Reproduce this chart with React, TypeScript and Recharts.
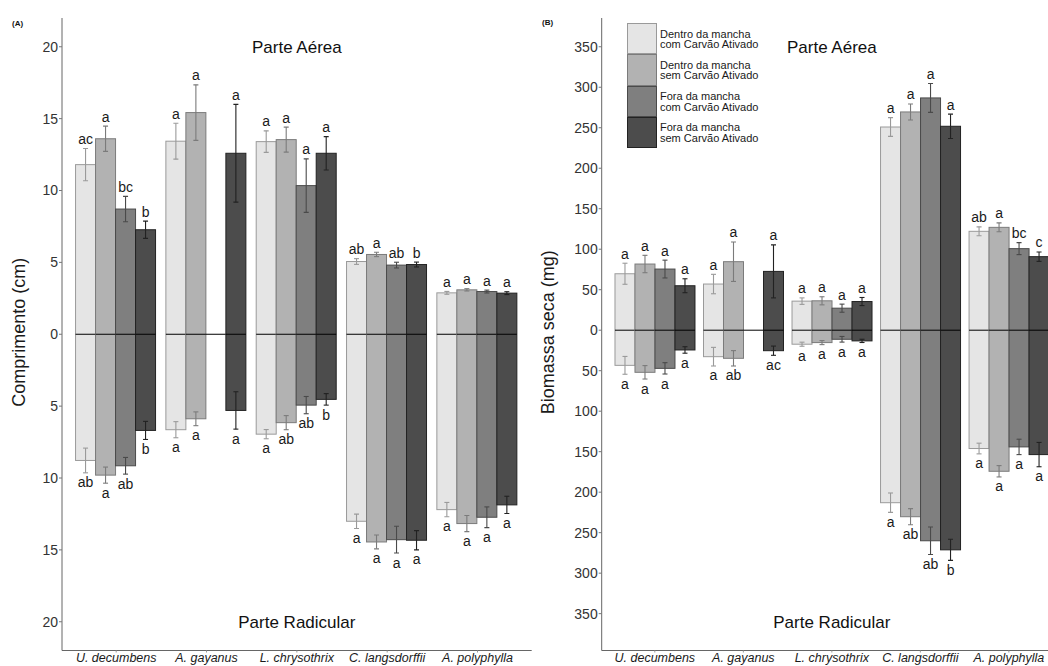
import React from 'react';
import { BarChart, Bar, XAxis, YAxis, ReferenceLine, Legend } from 'recharts';

const FONT = '"Liberation Sans", Arial, Helvetica, sans-serif';

const species = ['U. decumbens', 'A. gayanus', 'L. chrysothrix', 'C. langsdorffii', 'A. polyphylla'];
const groupNames = [
  ['Dentro da mancha', 'com Carvão Ativado'],
  ['Dentro da mancha', 'sem Carvão Ativado'],
  ['Fora da mancha', 'com Carvão Ativado'],
  ['Fora da mancha', 'sem Carvão Ativado'],
];
const groupFills = ['#e5e5e5', '#b2b2b2', '#7f7f7f', '#4c4c4c'];
const groupStrokes = ['#9a9a9a', '#7b7b7b', '#4a4a4a', '#222222'];

// ---------- Panel A: Comprimento (cm) ----------
const compAerea = [
  [11.8, 13.43, 13.4, 5.06, 2.88],
  [13.6, 15.42, 13.54, 5.55, 3.09],
  [8.71, null, 10.34, 4.81, 2.97],
  [7.27, 12.59, 12.59, 4.85, 2.86],
];
const compAereaErr = [
  [1.12, 1.25, 0.75, 0.2, 0.1],
  [0.88, 1.93, 0.87, 0.15, 0.08],
  [0.88, null, 1.86, 0.2, 0.1],
  [0.6, 3.4, 1.16, 0.17, 0.1],
];
const compAereaLetras = [
  ['ac', 'a', 'a', 'ab', 'a'],
  ['a', 'a', 'a', 'a', 'a'],
  ['bc', '', 'a', 'ab', 'a'],
  ['b', 'a', 'a', 'b', 'a'],
];
const compRaiz = [
  [8.78, 6.64, 6.95, 13.01, 12.2],
  [9.8, 5.88, 6.15, 14.45, 13.17],
  [9.15, null, 4.93, 14.29, 12.73],
  [6.69, 5.3, 4.53, 14.33, 11.87],
];
const compRaizErr = [
  [0.86, 0.56, 0.32, 0.5, 0.5],
  [0.56, 0.48, 0.49, 0.48, 0.56],
  [0.58, null, 0.6, 0.93, 0.72],
  [0.63, 1.3, 0.4, 0.67, 0.6],
];
const compRaizLetras = [
  ['ab', 'a', 'a', 'a', 'a'],
  ['a', 'a', 'ab', 'a', 'a'],
  ['ab', '', 'ab', 'a', 'a'],
  ['b', 'a', 'b', 'a', 'a'],
];
const compTicks = [-20, -15, -10, -5, 0, 5, 10, 15, 20];

// ---------- Panel B: Biomassa seca (mg) ----------
const biomAerea = [
  [69.7, 57, 35.9, 250.9, 122.1],
  [81.7, 84.6, 36.3, 269.5, 127],
  [75.5, null, 27.2, 286.8, 100.7],
  [54.9, 72.6, 35.4, 251.8, 90.8],
];
const biomAereaErr = [
  [13, 12, 4, 11.6, 5.5],
  [10.7, 24.4, 5, 9.9, 5.5],
  [11, null, 5, 17.8, 7.4],
  [8.6, 32.7, 5, 15, 5.8],
];
const biomAereaLetras = [
  ['a', 'a', 'a', 'a', 'ab'],
  ['a', 'a', 'a', 'a', 'a'],
  ['a', '', 'a', 'a', 'bc'],
  ['a', 'a', 'a', 'a', 'c'],
];
const biomRaiz = [
  [43.4, 32.7, 17.3, 213, 146.1],
  [52, 34.7, 15.3, 230.3, 174.2],
  [47.1, null, 11.2, 260, 144.1],
  [24.4, 25.3, 13.2, 271.2, 153.6],
];
const biomRaizErr = [
  [11, 11.5, 2.5, 12, 6.6],
  [8.3, 9.5, 2.5, 10, 7],
  [7, null, 3.5, 17, 9.5],
  [4, 5.7, 2, 13, 15],
];
const biomRaizLetras = [
  ['a', 'a', 'a', 'a', 'a'],
  ['a', 'ab', 'a', 'ab', 'a'],
  ['a', '', 'a', 'ab', 'a'],
  ['a', 'ac', 'a', 'b', 'a'],
];
const biomTicks = [-350, -300, -250, -200, -150, -100, -50, 0, 50, 100, 150, 200, 250, 300, 350];

type Num = number | null;

function buildRows(aer: Num[][], aerErr: Num[][], aerLet: string[][], rai: Num[][], raiErr: Num[][], raiLet: string[][]) {
  return species.map((sp, i) => {
    const row: any = { species: sp };
    for (let g = 0; g < 4; g++) {
      const a = aer[g][i];
      const r = rai[g][i];
      const has = a != null && r != null;
      row['v' + g] = has ? [-(r as number), a as number] : [0, 0];
      row['info' + g] = {
        has,
        a: a ?? 0,
        r: r ?? 0,
        ea: aerErr[g][i] ?? 0,
        er: raiErr[g][i] ?? 0,
        la: aerLet[g][i],
        lr: raiLet[g][i],
      };
    }
    return row;
  });
}

const rowsA = buildRows(compAerea, compAereaErr, compAereaLetras, compRaiz, compRaizErr, compRaizLetras);
const rowsB = buildRows(biomAerea, biomAereaErr, biomAereaLetras, biomRaiz, biomRaizErr, biomRaizLetras);

const makeShape = (g: number) => (props: any) => {
  const { x, y, width, height, payload } = props;
  const info = payload['info' + g];
  const fill = groupFills[g];
  const stroke = groupStrokes[g];
  if (!info || !info.has) {
    return (
      <g>
        <line x1={x} x2={x + width} y1={y} y2={y} stroke="#000" strokeWidth={1} />
      </g>
    );
  }
  const total = info.a + info.r;
  const px = height / total;
  const zeroY = y + info.a * px;
  const cx = x + width / 2;
  const cap = 2.5;
  const aTop = zeroY - (info.a + info.ea) * px;
  const aBot = zeroY - (info.a - info.ea) * px;
  const rTop = zeroY + (info.r - info.er) * px;
  const rBot = zeroY + (info.r + info.er) * px;
  const errColor = groupStrokes[g];
  return (
    <g>
      <rect x={x} y={y} width={width} height={height} fill={fill} stroke={stroke} strokeWidth={1} />
      <line x1={x} x2={x + width} y1={zeroY} y2={zeroY} stroke="#000" strokeWidth={1} />
      <g stroke={errColor} strokeWidth={1.1}>
        <line x1={cx} x2={cx} y1={aTop} y2={aBot} />
        <line x1={cx - cap} x2={cx + cap} y1={aTop} y2={aTop} />
        <line x1={cx - cap} x2={cx + cap} y1={aBot} y2={aBot} />
        <line x1={cx} x2={cx} y1={rTop} y2={rBot} />
        <line x1={cx - cap} x2={cx + cap} y1={rTop} y2={rTop} />
        <line x1={cx - cap} x2={cx + cap} y1={rBot} y2={rBot} />
      </g>
      <text x={cx} y={aTop - 4.5} textAnchor="middle" fontSize={14} fontFamily={FONT} fill="#1a1a1a">
        {info.la}
      </text>
      <text x={cx} y={rBot + 14.5} textAnchor="middle" fontSize={14} fontFamily={FONT} fill="#1a1a1a">
        {info.lr}
      </text>
    </g>
  );
};

const shapes = [0, 1, 2, 3].map((g) => makeShape(g));

const LegendBox = () => (
  <div style={{ fontFamily: FONT, fontSize: 11, color: '#1a1a1a' }}>
    {groupNames.map((n, g) => (
      <div key={g} style={{ display: 'flex', alignItems: 'center', height: 31.25 }}>
        <div
          style={{
            width: 30,
            height: 31.25,
            boxSizing: 'border-box',
            background: groupFills[g],
            border: `1px solid ${groupStrokes[g]}`,
          }}
        />
        <div style={{ marginLeft: 3, lineHeight: '10.5px', paddingTop: 1, whiteSpace: 'nowrap' }}>
          {n[0]}
          <br />
          {n[1]}
        </div>
      </div>
    ))}
  </div>
);

type PanelProps = {
  rows: any[];
  domain: [number, number];
  ticks: number[];
  yLabel: string;
  yLabelX: number;
  width: number;
  marginRight: number;
  yAxisWidth: number;
  topText: number;
  bottomText: number;
  legend?: boolean;
};

function Panel({ rows, domain, ticks, yLabel, yLabelX, width, marginRight, yAxisWidth, topText, bottomText, legend }: PanelProps) {
  const plotW = width - marginRight - 2 - yAxisWidth;
  const pad = (plotW / 5.2) * 0.1;
  return (
    <BarChart
      width={width}
      height={666}
      data={rows}
      margin={{ top: 18, right: marginRight, bottom: 0, left: 2 }}
      barCategoryGap="5%"
      barGap={0}
    >
      <XAxis
        dataKey="species"
        interval={0}
        height={15.5}
        padding={{ left: pad, right: pad }}
        tickSize={2}
        tickMargin={1}
        axisLine={{ stroke: '#666', strokeWidth: 1 }}
        tickLine={{ stroke: '#999' }}
        tick={{ fontSize: 12.5, fontStyle: 'italic', fill: '#1a1a1a', fontFamily: FONT }}
      />
      <YAxis
        type="number"
        domain={domain}
        allowDataOverflow
        ticks={ticks}
        interval={0}
        width={yAxisWidth}
        tickSize={3}
        tickMargin={1}
        tickFormatter={(v: number) => String(Math.abs(v))}
        axisLine={{ stroke: '#666', strokeWidth: 1 }}
        tickLine={{ stroke: '#777' }}
        tick={{ fontSize: 14, fill: '#333', fontFamily: FONT }}
        label={{
          content: (p: any) => {
            const vb = p.viewBox || { x: 0, y: 0, width: 0, height: 0 };
            const cx = vb.x + yLabelX;
            const cy = vb.y + vb.height / 2 - 2;
            return (
              <text
                transform={`translate(${cx},${cy}) rotate(-90)`}
                textAnchor="middle"
                dominantBaseline="central"
                fontSize={18}
                fontFamily={FONT}
                fill="#1a1a1a"
              >
                {yLabel}
              </text>
            );
          },
        }}
      />
      {[0, 1, 2, 3].map((g) => (
        <Bar
          key={g}
          dataKey={'v' + g}
          name={groupNames[g].join(' ')}
          fill={groupFills[g]}
          stroke={groupStrokes[g]}
          shape={shapes[g]}
          isAnimationActive={false}
        />
      ))}
      <ReferenceLine
        y={topText}
        stroke="none"
        strokeOpacity={0}
        label={{ value: 'Parte Aérea', position: 'center', fontSize: 17, fill: '#111', fontFamily: FONT }}
      />
      <ReferenceLine
        y={bottomText}
        stroke="none"
        strokeOpacity={0}
        label={{ value: 'Parte Radicular', position: 'center', fontSize: 17, fill: '#111', fontFamily: FONT }}
      />
      {legend && (
        <Legend
          layout="vertical"
          align="center"
          verticalAlign="middle"
          wrapperStyle={{ left: 107, top: 23, width: 'auto', height: 'auto' }}
          content={() => <LegendBox />}
        />
      )}
    </BarChart>
  );
}

export default function App() {
  return (
    <div
      style={{
        position: 'fixed',
        left: 0,
        top: 0,
        width: 1048,
        height: 666,
        overflow: 'hidden',
        background: '#fff',
        fontFamily: FONT,
      }}
    >
      <div style={{ position: 'absolute', left: 0, top: 0 }}>
        <Panel
          rows={rowsA}
          domain={[-22, 22]}
          ticks={compTicks}
          yLabel="Comprimento (cm)"
          yLabelX={16.5}
          width={545}
          marginRight={13.3}
          yAxisWidth={60}
          topText={20}
          bottomText={-20}
        />
      </div>
      <div style={{ position: 'absolute', left: 520, top: 0 }}>
        <Panel
          rows={rowsB}
          domain={[-395.5, 385.5]}
          ticks={biomTicks}
          yLabel="Biomassa seca (mg)"
          yLabelX={26}
          width={560}
          marginRight={18}
          yAxisWidth={79.7}
          topText={350}
          bottomText={-360}
          legend
        />
      </div>
      <div style={{ position: 'absolute', left: 12, top: 19, fontSize: 8, fontWeight: 'bold', color: '#111' }}>(A)</div>
      <div style={{ position: 'absolute', left: 542, top: 18, fontSize: 8, fontWeight: 'bold', color: '#111' }}>(B)</div>
    </div>
  );
}
